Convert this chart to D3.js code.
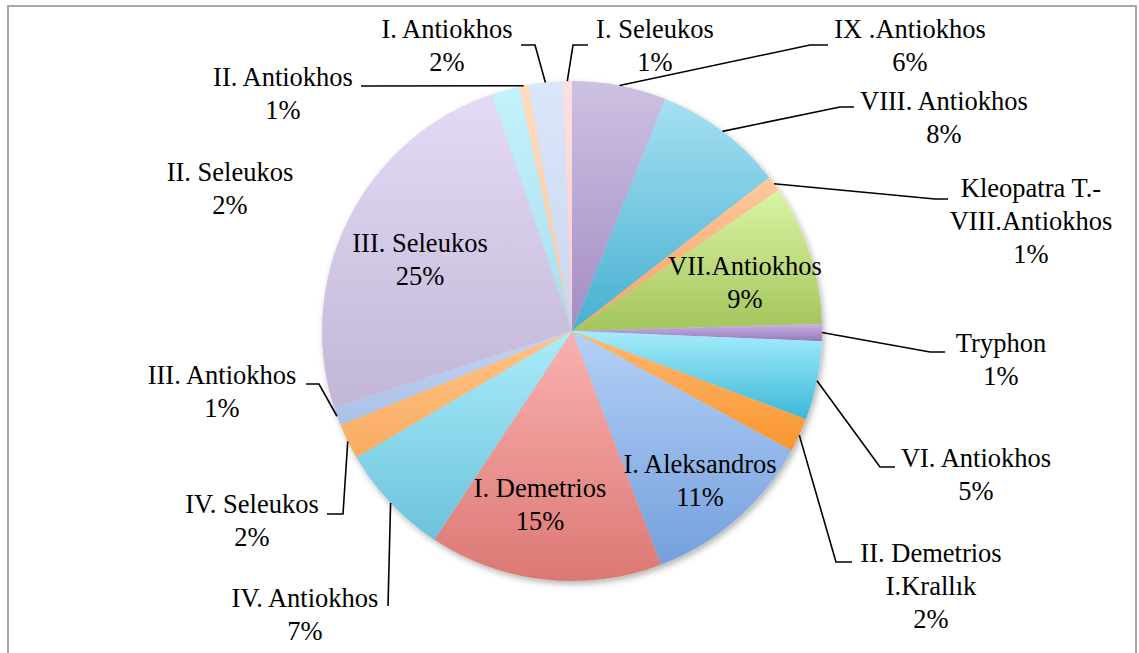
<!DOCTYPE html>
<meta charset="UTF-8">
<style>
  body { margin: 0; background: #fff; }
  text { font-family: "Liberation Serif", "Times New Roman", serif; font-size: 26.5px; fill: #000; }
</style>
<svg width="1139" height="653"></svg>
<script src="https://cdn.jsdelivr.net/npm/d3@7"></script>
<script>

// slices, clockwise from 12 o'clock
var names = ["IX .Antiokhos", "VIII. Antiokhos", "Kleopatra T.-\nVIII.Antiokhos", "VII.Antiokhos",
             "Tryphon", "VI. Antiokhos", "II. Demetrios\nI.Krallık", "I. Aleksandros", "I. Demetrios",
             "IV. Antiokhos", "IV. Seleukos", "III. Antiokhos", "III. Seleukos", "II. Seleukos",
             "II. Antiokhos", "I. Antiokhos", "I. Seleukos"];
var values = [6.1, 8.4, 1.0, 9.1, 1.1, 5.1, 2.2, 11.3, 15.1, 7.3, 2.3, 1.2, 24.8, 1.8, 0.6, 2.2, 0.6];
var colorTop = ["#cdc1e2", "#a6e0f2", "#ffc8a0", "#daf5a4", "#cab4e4", "#a4ecfc", "#ffb872", "#b4d0f6", "#f9b2b0",
                "#aaecfa", "#ffc488", "#c2d4f2", "#e4daf6", "#c4f2fc", "#ffdcbc", "#dae6fb", "#fde0e0"];
var colorBottom = ["#a38dc4", "#46b0d0", "#f8a060", "#a4c45c", "#9478bc", "#3cb8d6", "#f8962e", "#74a0dc", "#dc7874",
                   "#6cc2dc", "#f8ac60", "#aac0e6", "#c2b6d6", "#a8dcec", "#fac9a0", "#c8d6f0", "#f8cccc"];

// label placement: text centre x, first baseline, leader elbow and end (null = no leader)
var labelPos = [
  {x: 910, y: 38, lead: [[810, 45], [828, 45]]},
  {x: 944, y: 110, lead: [[840, 107], [854, 107]]},
  {x: 1031, y: 197, lead: [[935, 199], [948, 199]]},
  {x: 745, y: 275, lead: null},
  {x: 1001, y: 352, lead: [[930, 352], [945, 352]]},
  {x: 976, y: 467, lead: [[880, 467], [895, 467]]},
  {x: 931, y: 562, lead: [[836, 562], [852, 562]]},
  {x: 700, y: 473, lead: null},
  {x: 540, y: 497, lead: null},
  {x: 305, y: 607, lead: [[388, 606]]},
  {x: 252, y: 513, lead: [[343, 514], [327, 514]]},
  {x: 222, y: 384, lead: [[319, 384], [306, 384]]},
  {x: 420, y: 252, lead: null},
  {x: 230, y: 181, lead: null},
  {x: 283, y: 86, lead: [[361, 86]]},
  {x: 447, y: 38, lead: [[535, 45], [521, 45]]},
  {x: 655, y: 38, lead: [[573, 45], [588, 45]]}
];

var svg = d3.select("svg"),
    cx = 572, cy = 331, radius = 250,
    lineH = 33;

svg.append("rect")
    .attr("x", 8).attr("y", 6).attr("width", 1128).attr("height", 700)
    .attr("fill", "none").attr("stroke", "#a6a6a6").attr("stroke-width", 2);

var defs = svg.append("defs");
var shadow = defs.append("filter").attr("id", "shadow")
    .attr("x", "-10%").attr("y", "-10%").attr("width", "120%").attr("height", "120%");
shadow.append("feDropShadow").attr("dx", 2).attr("dy", 3).attr("stdDeviation", 3)
    .attr("flood-color", "#000").attr("flood-opacity", 0.3);

values.forEach(function(v, i) {
  var g = defs.append("linearGradient").attr("id", "grad" + i)
      .attr("x1", 0).attr("y1", 0).attr("x2", 0).attr("y2", 1);
  g.append("stop").attr("offset", "0%").attr("stop-color", colorTop[i]);
  g.append("stop").attr("offset", "100%").attr("stop-color", colorBottom[i]);
});

var total = d3.sum(values);
var pie = d3.pie().sort(null).value(function(d) { return d; });
var arcs = pie(values);
var arc = d3.arc().innerRadius(0).outerRadius(radius);

var pieG = svg.append("g")
    .attr("transform", "translate(" + cx + "," + cy + ")")
    .attr("filter", "url(#shadow)");

pieG.selectAll("path")
  .data(arcs)
  .enter().append("path")
    .attr("d", arc)
    .attr("fill", function(d, i) { return "url(#grad" + i + ")"; });

// leader lines
arcs.forEach(function(d, i) {
  var p = labelPos[i];
  if (!p.lead) return;
  var a = (d.startAngle + d.endAngle) / 2;
  var pts = [[cx + radius * Math.sin(a), cy - radius * Math.cos(a)]].concat(p.lead);
  svg.append("path")
      .attr("d", d3.line()(pts))
      .attr("fill", "none").attr("stroke", "#000").attr("stroke-width", 1.6);
});

// labels
arcs.forEach(function(d, i) {
  var p = labelPos[i];
  var lines = names[i].split("\n").concat([Math.round(d.value / total * 100) + "%"]);
  var t = svg.append("text").attr("text-anchor", "middle");
  lines.forEach(function(s, k) {
    t.append("tspan").attr("x", p.x).attr("y", p.y + k * lineH).text(s);
  });
});

</script>
